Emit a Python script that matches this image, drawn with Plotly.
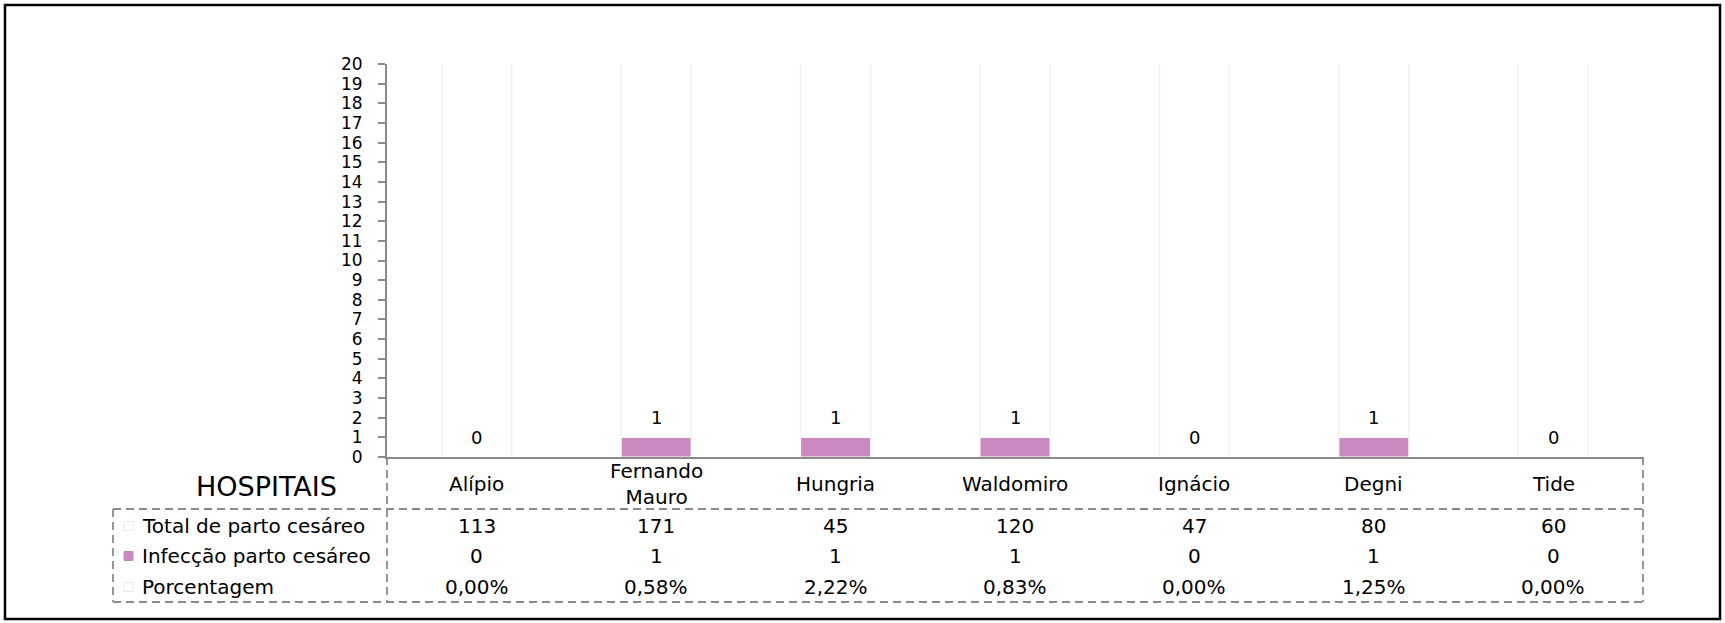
import plotly.graph_objects as go

# ---- data ----
hospitals = ["Alípio", "Fernando Mauro", "Hungria", "Waldomiro", "Ignácio", "Degni", "Tide"]
total_cesareo = [113, 171, 45, 120, 47, 80, 60]
infeccao_cesareo = [0, 1, 1, 1, 0, 1, 0]
porcentagem = [0.0, 0.0058, 0.0222, 0.0083, 0.0, 0.0125, 0.0]
row_names = ["Total de parto cesáreo", "Infecção parto cesáreo", "Porcentagem"]
y_ticks = list(range(0, 21))
header_title = "HOSPITAIS"

# ---- style ----
PINK = "#C98BBF"
GRAY = "#8A8A8A"
FONT = "DejaVu Sans"
W, H = 1725, 623
L, R, T, B = 387, 82, 64, 166  # plot-area margins in px
PW, PH = W - L - R, H - T - B


def px_x(px):
    return (px - L) / PW


def px_y(py):
    return (H - B - py) / PH


fig = go.Figure()

fig.add_bar(x=hospitals, y=total_cesareo, width=0.39, name=row_names[0],
            marker=dict(color="white", line=dict(color="#F2F2F2", width=1.5)),
            showlegend=False, hoverinfo="skip")
fig.add_bar(x=hospitals, y=porcentagem, width=0.39, name=row_names[2],
            marker=dict(color="white", line=dict(width=0)),
            showlegend=False)
fig.add_bar(x=hospitals, y=infeccao_cesareo, width=0.39, name=row_names[1],
            marker=dict(color=PINK, line=dict(color="white", width=1)),
            showlegend=False)

annotations = []
# data labels above infection bars
for h, v in zip(hospitals, infeccao_cesareo):
    annotations.append(dict(x=h, y=v, xref="x", yref="y", text=str(v), showarrow=False,
                            yshift=20, yanchor="middle", font=dict(family=FONT, size=18, color="black")))

# table: category row and values
row_shift = [-69, -99, -130]
fmt_rows = [
    [str(v) for v in total_cesareo],
    [str(v) for v in infeccao_cesareo],
    [f"{v * 100:.2f}%".replace(".", ",") for v in porcentagem],
]
TS = 20
for i, h in enumerate(hospitals):
    annotations.append(dict(x=h, y=0, xref="x", yref="paper", text=h.replace(" ", "<br>"),
                            showarrow=False, yshift=-27, yanchor="middle",
                            font=dict(family=FONT, size=TS, color="black")))
    for r in range(3):
        annotations.append(dict(x=h, y=0, xref="x", yref="paper", text=fmt_rows[r][i],
                                showarrow=False, yshift=row_shift[r], yanchor="middle",
                                font=dict(family=FONT, size=TS, color="black")))

# row headers
for r, name in enumerate(row_names):
    annotations.append(dict(x=px_x(140), y=0, xref="paper", yref="paper", text=name,
                            showarrow=False, yshift=row_shift[r], xanchor="left", yanchor="middle",
                            font=dict(family=FONT, size=TS, color="black")))

annotations.append(dict(x=px_x(266), y=0, xref="paper", yref="paper", text=header_title,
                        showarrow=False, yshift=-29, xanchor="center", yanchor="middle",
                        font=dict(family=FONT, size=27, color="black")))

shapes = []
dash = dict(color=GRAY, width=1.8, dash="8px,5px")


def line(x0, y0, x1, y1, ln):
    shapes.append(dict(type="line", xref="paper", yref="paper",
                       x0=px_x(x0), y0=px_y(y0), x1=px_x(x1), y1=px_y(y1), line=ln, layer="above"))


line(387, 457, 387, 602, dash)
line(1643, 457, 1643, 602, dash)
line(113, 509, 1643, 509, dash)
line(113, 602, 1643, 602, dash)
line(113, 509, 113, 602, dash)

# legend keys in the table
key_fill = ["white", PINK, "white"]
key_line = ["#EAEAEA", PINK, "#EAEAEA"]
for r in range(3):
    cy = 457 - row_shift[r]
    shapes.append(dict(type="rect", xref="paper", yref="paper",
                       x0=px_x(124), x1=px_x(133), y0=px_y(cy - 4.5), y1=px_y(cy + 4.5),
                       fillcolor=key_fill[r], line=dict(color=key_line[r], width=1)))

# outer frame
shapes.append(dict(type="rect", xref="paper", yref="paper",
                   x0=px_x(5), x1=px_x(1720), y0=px_y(5), y1=px_y(619),
                   line=dict(color="black", width=2.5), fillcolor="rgba(0,0,0,0)"))

fig.update_layout(
    width=W, height=H,
    margin=dict(l=L, r=R, t=T, b=B),
    barmode="overlay",
    plot_bgcolor="white", paper_bgcolor="white",
    annotations=annotations, shapes=shapes,
    xaxis=dict(showline=True, linecolor=GRAY, linewidth=2.2, showticklabels=False,
               ticks="", showgrid=False, zeroline=False),
    yaxis=dict(range=[0, 20], tickvals=y_ticks, showline=True, linecolor=GRAY, linewidth=2,
               ticks="outside", ticklen=7, tickcolor=GRAY, tickwidth=1.5,
               ticklabelstandoff=12, showgrid=False, zeroline=False,
               tickfont=dict(family=FONT, size=17, color="black")),
    font=dict(family=FONT),
)

fig.write_html("out.html", config={"displayModeBar": False},
               post_script="document.body.style.margin='0';document.body.style.overflow='hidden';")
